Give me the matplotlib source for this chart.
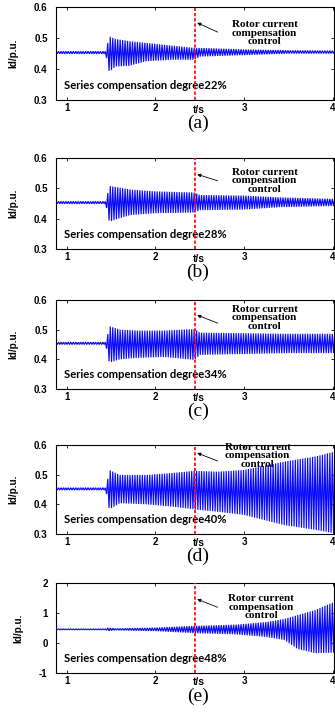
import numpy as np
import matplotlib.pyplot as plt

W, H = 335, 713
BLUE = "#0a0aff"
RED = "#ff1010"

# Id envelopes (upper / lower) per compensation degree, read at knot times
t_a = [0.88, 1.44, 1.46, 1.48, 1.55, 1.7, 1.9, 2.2, 2.44, 2.5, 2.8, 3.0, 3.5, 4.02]
up_a = [0.457, 0.457, 0.48, 0.505, 0.497, 0.49, 0.484, 0.475, 0.468, 0.468, 0.465, 0.463, 0.460, 0.459]
lo_a = [0.449, 0.449, 0.42, 0.390, 0.408, 0.41, 0.425, 0.430, 0.430, 0.440, 0.443, 0.445, 0.450, 0.450]

t_b = [0.88, 1.44, 1.46, 1.48, 1.58, 1.72, 2.0, 2.44, 2.5, 3.0, 3.4, 4.02]
up_b = [0.457, 0.457, 0.48, 0.508, 0.503, 0.496, 0.490, 0.486, 0.478, 0.476, 0.470, 0.465]
lo_b = [0.449, 0.449, 0.42, 0.390, 0.400, 0.412, 0.418, 0.420, 0.428, 0.430, 0.438, 0.442]

t_c = [0.88, 1.44, 1.46, 1.48, 1.6, 1.8, 2.1, 2.44, 2.5, 3.0, 3.5, 4.02]
up_c = [0.458, 0.458, 0.48, 0.512, 0.500, 0.497, 0.497, 0.502, 0.490, 0.488, 0.486, 0.486]
lo_c = [0.450, 0.450, 0.42, 0.389, 0.400, 0.405, 0.408, 0.398, 0.415, 0.418, 0.421, 0.421]

t_d = [0.88, 1.44, 1.46, 1.48, 1.6, 1.9, 2.2, 2.44, 2.7, 3.0, 3.45, 3.8, 4.02]
up_d = [0.456, 0.456, 0.48, 0.516, 0.499, 0.499, 0.506, 0.513, 0.510, 0.516, 0.544, 0.561, 0.578]
lo_d = [0.448, 0.448, 0.42, 0.383, 0.404, 0.400, 0.392, 0.383, 0.375, 0.364, 0.330, 0.314, 0.302]

t_e = [0.88, 1.44, 1.47, 1.55, 2.0, 2.44, 2.9, 3.25, 3.45, 3.6, 3.8, 4.02]
up_e = [0.47, 0.47, 0.51, 0.48, 0.51, 0.57, 0.61, 0.70, 0.80, 0.93, 1.10, 1.38]
lo_e = [0.44, 0.44, 0.40, 0.43, 0.40, 0.33, 0.29, 0.20, 0.10, -0.20, -0.34, -0.32]

degrees = [22, 28, 34, 40, 48]
tags = ["(a)", "(b)", "(c)", "(d)", "(e)"]
ylims = [(0.3, 0.6)] * 4 + [(-1, 2)]
yticks = [[0.3, 0.4, 0.5, 0.6]] * 4 + [[-1, 0, 1, 2]]
xticks = [1, 2, 3, 4]
t_ctrl = 2.45

envelopes = [(t_a, up_a, lo_a), (t_b, up_b, lo_b), (t_c, up_c, lo_c),
             (t_d, up_d, lo_d), (t_e, up_e, lo_e)]

# panel boxes in pixels (top, bottom)
tops = [7, 158, 300, 445, 583]
bots = [100, 249, 389, 534, 673]
x_left, x_right = 56, 334
# note / arrow placement per panel (axes-fraction y)
note_y = [0.72, 0.75, 0.80, 0.88, 0.73]
note_x = [3.23, 3.23, 3.23, 3.15, 3.19]
arrow_tail = [0.73, 0.75, 0.74, 0.82, 0.73]
arrow_tip = [0.83, 0.82, 0.83, 0.91, 0.82]

fig = plt.figure(figsize=(W / 100, H / 100), dpi=100)
fig.patch.set_facecolor("white")

tick_font = dict(family="Liberation Sans", weight="bold", size=7)
f_osc = 36.0

for i in range(5):
    ax = fig.add_axes([x_left / W, 1 - bots[i] / H,
                       (x_right - x_left) / W, (bots[i] - tops[i]) / H])
    tk, up, lo = envelopes[i]

    # oscillating trace: alternate between the upper and lower envelope each half cycle
    tt = np.arange(0.88, 4.03, 0.5 / f_osc)
    ev_up = np.interp(tt, tk, up)
    ev_lo = np.interp(tt, tk, lo)
    yy = np.where(np.arange(len(tt)) % 2 == 0, ev_up, ev_lo)
    ax.plot(tt, yy, color=BLUE, lw=0.85, solid_joinstyle="miter")

    ax.axvline(t_ctrl, color=RED, lw=1.3, ls=(0, (1.8, 1.1)), zorder=4)

    ax.set_xlim(0.88, 4.01)
    ax.set_ylim(*ylims[i])
    ax.set_xticks(xticks)
    ax.set_yticks(yticks[i])
    ax.set_xticklabels([str(v) for v in xticks], fontdict=tick_font)
    if i < 4:
        ax.set_yticklabels([f"{v:.1f}" for v in yticks[i]], fontdict=tick_font)
    else:
        ax.set_yticklabels([str(v) for v in yticks[i]], fontdict=tick_font)
    ax.tick_params(direction="in", length=2.5, width=0.6, top=True, right=True,
                   pad=2)
    ax.tick_params(axis="y", pad=6)
    for s in ax.spines.values():
        s.set_linewidth(0.8)

    ax.set_ylabel("Id/p.u.", family="Liberation Sans", weight="bold", size=7.2,
                  labelpad=11)
    ax.text(0.513, -0.105, "t/s", transform=ax.transAxes, ha="center", va="center",
            family="Liberation Sans", weight="bold", size=7.4)
    ax.text(0.51, -0.255, tags[i], transform=ax.transAxes, ha="center", va="center",
            family="Liberation Serif", size=14, clip_on=False)

    ax.text(0.03, 0.16, f"Series compensation degree{degrees[i]}%",
            transform=ax.transAxes, ha="left", va="center",
            family="Lato", weight="bold", size=8.1)

    xt = ax.get_xaxis_transform()
    ax.text(note_x[i], note_y[i], "Rotor current\ncompensation\ncontrol",
            transform=xt, ha="center", va="center", family="Liberation Serif",
            weight="bold", size=8, linespacing=0.95, zorder=5)
    ax.annotate("", xy=(2.47, arrow_tip[i]), xycoords=xt,
                xytext=(2.70, arrow_tail[i]), textcoords=xt,
                arrowprops=dict(arrowstyle="-|>", color="black", lw=0.6,
                                mutation_scale=5, shrinkA=0, shrinkB=0))

fig.savefig("out.png", dpi=100)
